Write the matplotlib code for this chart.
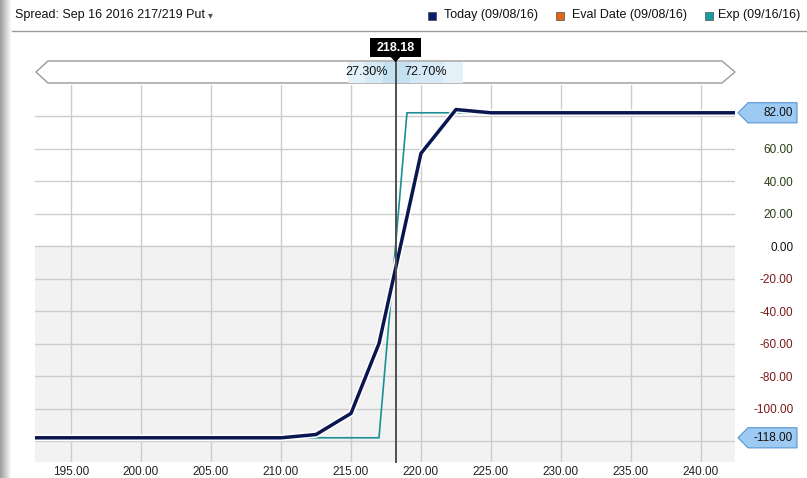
import matplotlib.pyplot as plt
import matplotlib.transforms as mtransforms
import matplotlib.patheffects as pe
from matplotlib.patches import Polygon, Rectangle
import numpy as np

plt.rcParams['font.family'] = ['Liberation Sans', 'DejaVu Sans']

# ---- data -------------------------------------------------------------
title = "Spread: Sep 16 2016 217/219 Put"
legend_labels = ["Today (09/08/16)", "Eval Date (09/08/16)", "Exp (09/16/16)"]
legend_colors = ["#0c1d6e", "#e0661c", "#1b9aa0"]

today_x = [192.4, 210.0, 212.5, 215.0, 217.0, 220.0, 222.5, 225.0, 242.5]
today_y = [-118, -118, -116, -103, -60, 57, 84, 82, 82]
exp_x = [192.4, 217.0, 219.0, 242.5]
exp_y = [-118, -118, 82, 82]

current_price = 218.18
prob_below = "27.30%"
prob_above = "72.70%"
max_profit = 82.0
max_loss = -118.0

x_ticks = np.arange(195, 241, 5)
y_grid = np.arange(-120, 81, 20)
y_hidden = [80, -120]          # gridlines drawn, labels replaced by callouts

W, H = 807, 478
fig = plt.figure(figsize=(W / 100, H / 100), dpi=100)
fig.patch.set_facecolor("white")

# main plot area (pixel box 35..735 x 85..462)
ax = fig.add_axes([35 / W, (H - 462) / H, 700 / W, 377 / H])
ax.set_xlim(192.43, 242.43)
ax.set_ylim(-132.9, 99.1)
ax.set_facecolor("white")
ax.axhspan(-200, 0, color="#f2f2f2", zorder=0)
for s in ax.spines.values():
    s.set_visible(False)

ax.set_xticks(x_ticks)
ax.set_xticklabels([f"{v:.2f}" for v in x_ticks], fontsize=8.5, color="#222222")
ax.set_yticks(y_grid)
ylabels = ["" if v in y_hidden else f"{v:.2f}" for v in y_grid]
ax.set_yticklabels(ylabels, fontsize=8.5)
ax.yaxis.tick_right()
ax.tick_params(axis="both", length=0)
ax.tick_params(axis="x", pad=3)
ax.tick_params(axis="y", pad=42)
for lab, v in zip(ax.get_yticklabels(), y_grid):
    lab.set_horizontalalignment("right")
    if v > 0:
        lab.set_color("#2a3d14")
    elif v < 0:
        lab.set_color("#7a1a1a")
    else:
        lab.set_color("#111111")
ax.grid(True, color="#cccccc", linewidth=1.0, zorder=1)
ax.set_axisbelow(True)

halo = [pe.Stroke(linewidth=4.8, foreground="white"), pe.Normal()]
ax.plot(exp_x, exp_y, color="#1b8f93", linewidth=1.2, zorder=3,
        solid_joinstyle="miter")
ax.plot(today_x, today_y, color="#0a1650", linewidth=2.5, zorder=4,
        path_effects=halo, solid_joinstyle="round")

# ---- overlay in pixel coords for header / pill / callouts --------------
ov = fig.add_axes([0, 0, 1, 1], zorder=5)
ov.set_xlim(0, W)
ov.set_ylim(H, 0)
ov.axis("off")
ov.patch.set_alpha(0)

# left shadow of the panel
grad = np.linspace(0.62, 1.0, 12)[None, :]
ov.imshow(np.repeat(grad, 2, axis=0), cmap="gray", vmin=0, vmax=1,
          extent=(0, 12, H, 0), aspect="auto", zorder=0)

# header
ov.text(15, 15, title, fontsize=9, color="#111111", va="center", ha="left")
ov.text(208, 15.5, "\u25be", fontsize=7, color="#555555", va="center",
        ha="left", family="DejaVu Sans")
ov.plot([12, W], [31, 31], color="#9a9a9a", linewidth=1)
sq_x = [428, 556, 705]
txt_x = [444, 572, 718]
for x0, tx, lab, c in zip(sq_x, txt_x, legend_labels, legend_colors):
    ov.add_patch(Rectangle((x0, 12), 7.5, 8, facecolor=c, edgecolor="#333333",
                           linewidth=0.4))
    ov.text(tx, 15, lab, fontsize=9, color="#111111", va="center")

# probability pill
px = mtransforms.blended_transform_factory(ax.transData, ov.transData)
pill = Polygon([(36, 72), (48, 61), (722, 61), (735, 72), (722, 83), (48, 83)],
               closed=True, facecolor="white", edgecolor="#9a9a9a",
               linewidth=1, zorder=1)
ov.add_patch(pill)
bands = [(-3.4, 4.8, "#e4f1f9"), (-2.2, 3.4, "#d5eaf6"), (-0.9, 1.0, "#c4e1f1")]
for lo, hi, c in bands:
    ov.add_patch(Rectangle((current_price + lo, 62), hi - lo, 20.5,
                           transform=px, facecolor=c, edgecolor="none",
                           zorder=2))
ov.text(current_price - 0.55, 72, prob_below, transform=px, ha="right",
        va="center", fontsize=9, color="#111111", zorder=4)
ov.text(current_price + 0.6, 72, prob_above, transform=px, ha="left",
        va="center", fontsize=9, color="#111111", zorder=4)

# current price marker
ov.plot([current_price, current_price], [58, 462], transform=px,
        color="#505050", linewidth=1.4, zorder=3)
ov.add_patch(Rectangle((current_price - 1.8, 38), 3.6, 19, transform=px,
                       facecolor="black", edgecolor="none", zorder=5))
ov.add_patch(Polygon([(current_price - 0.35, 57), (current_price + 0.35, 57),
                      (current_price, 62)], closed=True, transform=px,
                     facecolor="black", edgecolor="none", zorder=5))
ov.text(current_price, 47.5, f"{current_price:.2f}", transform=px, ha="center",
        va="center", fontsize=9, color="white", fontweight="bold", zorder=6)

# max profit / max loss callouts on the right axis
cy = mtransforms.blended_transform_factory(ov.transData, ax.transData)
hh = 6.2
for v in (max_profit, max_loss):
    ov.add_patch(Polygon([(738, v), (748, v + hh), (797, v + hh),
                          (797, v - hh), (748, v - hh)], closed=True,
                         transform=cy, facecolor="#9ccaf2",
                         edgecolor="#5a95d2", linewidth=0.8, zorder=2))
    ov.text(793, v, f"{v:.2f}", transform=cy, ha="right", va="center",
            fontsize=8.5, color="#111111", zorder=3)

fig.savefig("out.png", dpi=100)
